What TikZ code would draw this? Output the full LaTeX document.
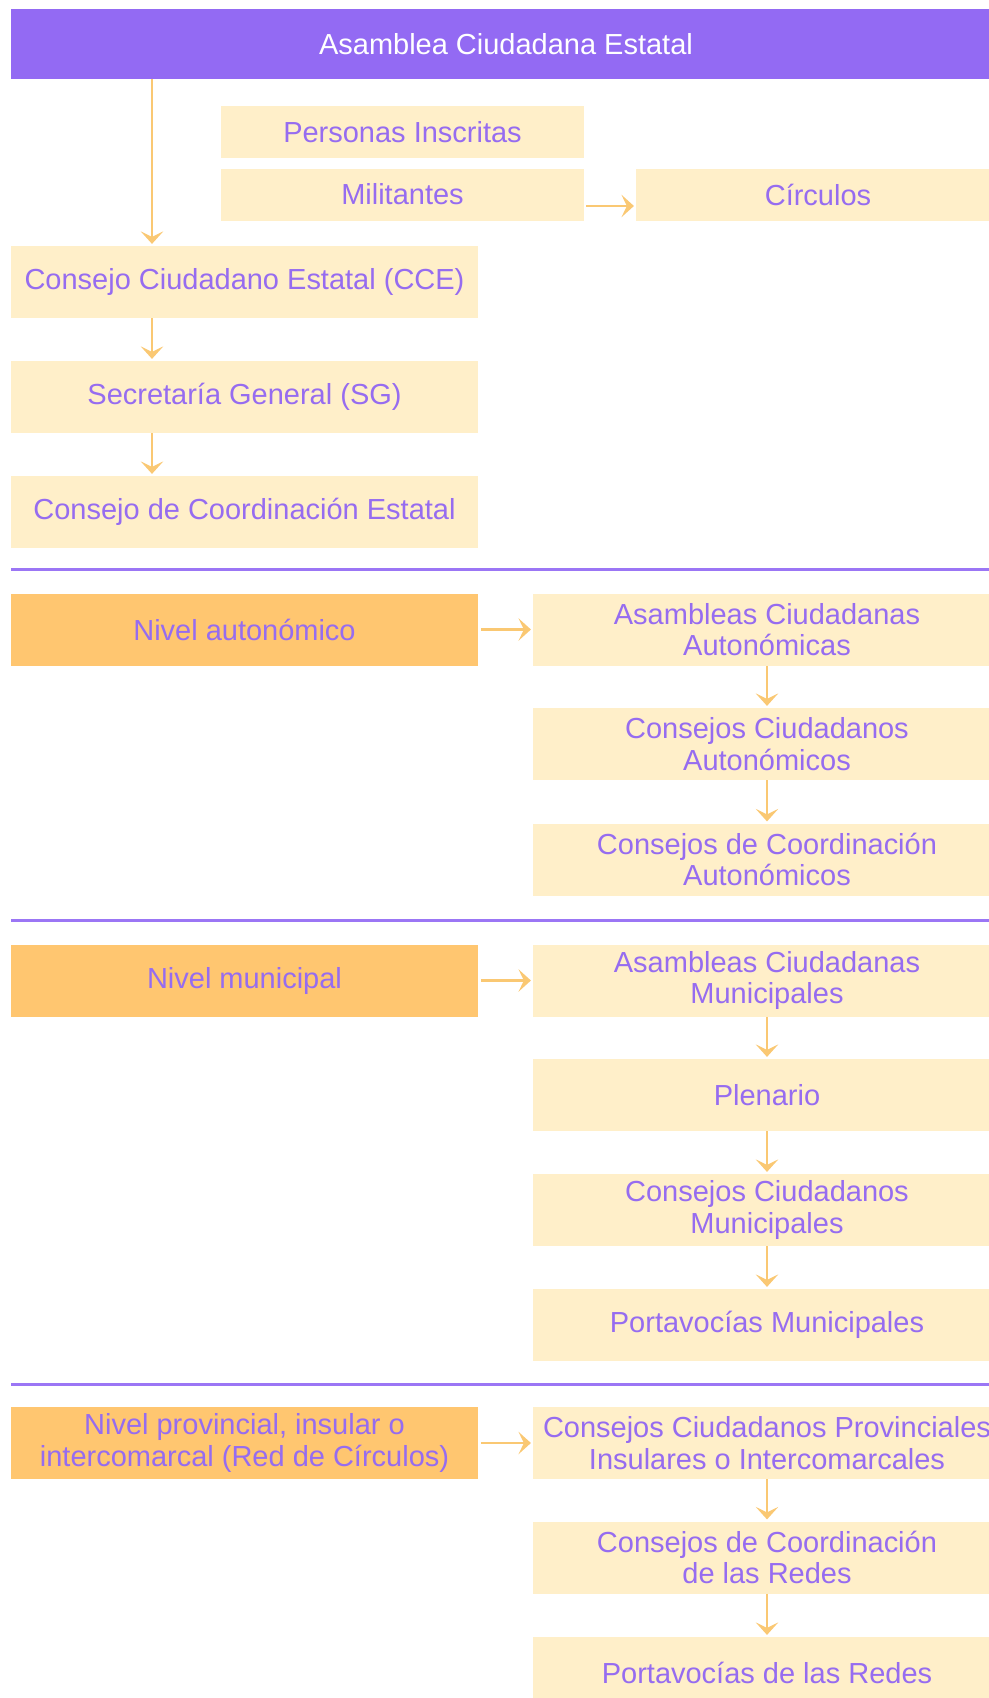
\documentclass[tikz,border=0pt]{standalone}
\usepackage{fontspec}
\setmainfont{Liberation Sans}
\usetikzlibrary{arrows.meta}
\definecolor{morado}{RGB}{147,106,243}
\definecolor{lila}{RGB}{150,108,240}
\definecolor{linea}{RGB}{155,118,245}
\definecolor{crema}{RGB}{255,239,201}
\definecolor{naranja}{RGB}{255,198,112}
\definecolor{flecha}{RGB}{250,200,115}
\begin{document}
\begin{tikzpicture}[x=0.02cm, y=-0.02cm,
    caja/.style={fill=crema, text=lila, inner sep=0pt, align=center,
        minimum height=1.44cm, font=\fontsize{16.5}{18}\selectfont},
    izq/.style={caja, minimum width=9.34cm},
    der/.style={caja, minimum width=9.36cm},
    nivel/.style={izq, fill=naranja},
    flechita/.style={draw=flecha, line width=1.6pt, shorten >=1pt,
        -{Stealth[length=0.25cm, width=0.45cm, inset=0.11cm]}},
    separador/.style={draw=linea, line width=1.7pt}]
    \useasboundingbox (0,0) rectangle (989,1698);
    % organos estatales
    \node[caja, fill=morado, text=white, minimum width=19.8cm, minimum height=1.4cm] (ace) at (506,44) {Asamblea Ciudadana Estatal};
    \node[caja, minimum width=7.26cm, minimum height=1.04cm] (inscritas) at (402.5,132) {Personas Inscritas};
    \node[caja, minimum width=7.26cm, minimum height=1.04cm] (militantes) at (402.5,194.5) {Militantes};
    \node[caja, minimum width=7.28cm, minimum height=1.04cm] (circulos) at (818,194.5) {Círculos};
    \node[izq] (cce) at (244.5,282) {Consejo Ciudadano Estatal (CCE)};
    \node[izq] (sg) at (244.5,397) {Secretaría General (SG)};
    \node[izq] (cco) at (244.5,512) {Consejo de Coordinación Estatal};
    \coordinate (eje) at (152,0);
    \draw[flechita] (ace.south -| eje) -- (cce.north -| eje);
    \draw[flechita, shorten <=1pt] ([yshift=-0.23cm]militantes.east) -- ([yshift=-0.23cm]circulos.west);
    \draw[flechita] (cce.south -| eje) -- (sg.north -| eje);
    \draw[flechita] (sg.south -| eje) -- (cco.north -| eje);
    \draw[separador] (11,569) -- (1001,569);
    % nivel autonomico
    \node[nivel] (naut) at (244.5,629.5) {Nivel autonómico};
    \node[der] (aca) at (767,629.5) {Asambleas Ciudadanas\\Autonómicas};
    \node[der] (cca) at (767,744) {Consejos Ciudadanos\\Autonómicos};
    \node[der] (ccoa) at (767,859.5) {Consejos de Coordinación\\Autonómicos};
    \draw[flechita, shorten <=1.5pt] (naut) -- (aca);
    \draw[flechita] (aca) -- (cca);
    \draw[flechita] (cca) -- (ccoa);
    \draw[separador] (11,920) -- (1001,920);
    % nivel municipal
    \node[nivel] (nmun) at (244.5,980.5) {Nivel municipal};
    \node[der] (acm) at (767,980.5) {Asambleas Ciudadanas\\Municipales};
    \node[der] (plenario) at (767,1095) {Plenario};
    \node[der] (ccm) at (767,1210) {Consejos Ciudadanos\\Municipales};
    \node[der] (pm) at (767,1325) {Portavocías Municipales};
    \draw[flechita, shorten <=1.5pt] (nmun) -- (acm);
    \draw[flechita] (acm) -- (plenario);
    \draw[flechita] (plenario) -- (ccm);
    \draw[flechita] (ccm) -- (pm);
    \draw[separador] (11,1384) -- (1001,1384);
    % nivel provincial
    \node[nivel] (nprov) at (244.5,1443) {Nivel provincial, insular o\\intercomarcal (Red de Círculos)};
    \node[der] (ccp) at (767,1443) {Consejos Ciudadanos Provinciales\\Insulares o Intercomarcales};
    \node[der] (ccr) at (767,1557.5) {Consejos de Coordinación\\de las Redes};
    \node[der] (pr) at (767,1673) {Portavocías de las Redes};
    \draw[flechita, shorten <=1.5pt] (nprov) -- (ccp);
    \draw[flechita] (ccp) -- (ccr);
    \draw[flechita] (ccr) -- (pr);
\end{tikzpicture}
\end{document}
